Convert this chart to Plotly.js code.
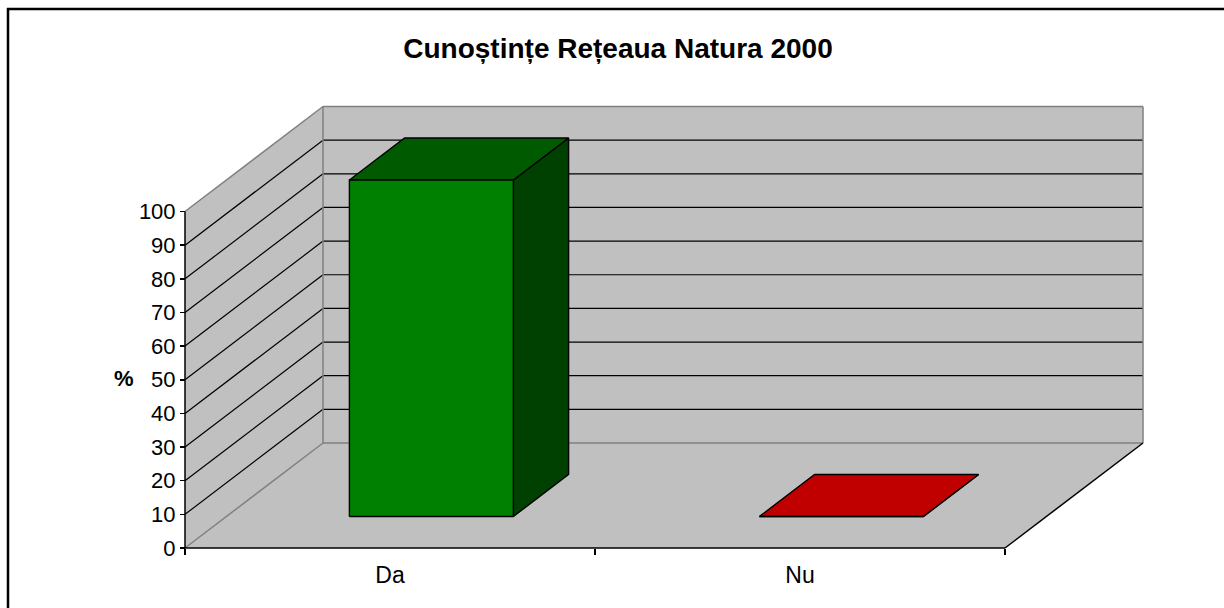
<!DOCTYPE html>
<html>
<head>
<meta charset="utf-8">
<script src="https://cdn.plot.ly/plotly-3.0.1.min.js"></script>
<style>
  html, body { margin: 0; padding: 0; background: #fff; }
  #chart { width: 1224px; height: 608px; }
</style>
</head>
<body>
<div id="chart"></div>
<script>
// ---- data ----
const chartTitle = 'Cunoștințe Rețeaua Natura 2000';
const yAxisLabel = '%';
const categories = ['Da', 'Nu'];
const values = [100, 0];
const yTickVals = [0, 10, 20, 30, 40, 50, 60, 70, 80, 90, 100];
const yTickText = ['0', '10', '20', '30', '40', '50', '60', '70', '80', '90', '100'];
const yMax = 100;

// ---- styles ----
const frontColors = ['#008000', '#C00000'];
const topColors = ['#005A00', '#C00000'];
const sideColors = ['#004000', '#800000'];
const wallColor = '#C0C0C0';
const edgeGray = '#808080';
const FONT = 'Liberation Sans, Arial, sans-serif';

// ---- geometry (pixel layout of the oblique projection) ----
const W_FULL = 1224, H_FULL = 608;
const X0PX = 185, CATPX = 410, DXPX = 138, Y0PX = 548, UNITPX = 3.365, DYPX = 105, PAD = 6;
const l = X0PX - PAD;
const plotRightPx = X0PX + categories.length * CATPX + DXPX + PAD;
const r = W_FULL - plotRightPx;
const t = 100;
const b = H_FULL - (Y0PX + PAD);
const W = W_FULL - l - r, H = H_FULL - t - b;
const xRange = [-(X0PX - l) / CATPX, (plotRightPx - X0PX) / CATPX];
const yRange = [-PAD / UNITPX, (Y0PX - t) / UNITPX];
const DX = DXPX / CATPX;   // depth offset, x units
const DY = DYPX / UNITPX;  // depth offset, y units
const nCat = categories.length;
const barHalf = 0.2, z0 = 0.3, z1 = 0.7;

function P(x, y, z) { return [x + z * DX, y + z * DY]; }
function poly(pts, fill, lineColor, lineWidth) {
  const xs = pts.map(p => p[0]), ys = pts.map(p => p[1]);
  xs.push(xs[0]); ys.push(ys[0]);
  return { x: xs, y: ys, mode: 'lines', fill: 'toself', fillcolor: fill,
    line: { color: lineColor, width: lineWidth }, hoverinfo: 'skip', showlegend: false, xaxis: 'x', yaxis: 'y' };
}
function lines(segs, color, width) {
  const xs = [], ys = [];
  segs.forEach(s => { xs.push(s[0][0], s[1][0], null); ys.push(s[0][1], s[1][1], null); });
  return { x: xs, y: ys, mode: 'lines', line: { color: color, width: width }, hoverinfo: 'skip',
    showlegend: false, connectgaps: false, xaxis: 'x', yaxis: 'y' };
}

const traces = [];
// floor
traces.push(poly([P(0, 0, 0), P(nCat, 0, 0), P(nCat, 0, 1), P(0, 0, 1)], wallColor, 'rgba(0,0,0,0)', 0));
// left wall
traces.push(poly([P(0, 0, 0), P(0, yMax, 0), P(0, yMax, 1), P(0, 0, 1)], wallColor, 'rgba(0,0,0,0)', 0));
// back wall
traces.push(poly([P(0, 0, 1), P(nCat, 0, 1), P(nCat, yMax, 1), P(0, yMax, 1)], wallColor, 'rgba(0,0,0,0)', 0));
// gridlines
const grid = [];
yTickVals.filter(v => v > 0 && v < yMax).forEach(v => {
  grid.push([P(0, v, 0), P(0, v, 1)]);
  grid.push([P(0, v, 1), P(nCat, v, 1)]);
});
traces.push(lines(grid, '#000', 1.2));
// gray wall edges
traces.push(lines([
  [P(0, 0, 0), P(0, 0, 1)],
  [P(0, yMax, 0), P(0, yMax, 1)],
  [P(0, 0, 1), P(nCat, 0, 1)],
  [P(0, yMax, 1), P(nCat, yMax, 1)],
  [P(0, 0, 1), P(0, yMax, 1)],
  [P(nCat, 0, 1), P(nCat, yMax, 1)]
], edgeGray, 1.5));
// black front edges
traces.push(lines([
  [P(0, 0, 0), P(nCat, 0, 0)],
  [P(nCat, 0, 0), P(nCat, 0, 1)],
  [P(0, 0, 0), P(0, yMax, 0)]
], '#000', 1.5));
// bars
categories.forEach((c, i) => {
  const v = values[i];
  const x0 = i + 0.5 - barHalf, x1 = i + 0.5 + barHalf;
  traces.push(poly([P(x1, 0, z0), P(x1, 0, z1), P(x1, v, z1), P(x1, v, z0)], sideColors[i], '#000', 1.4));
  traces.push(poly([P(x0, v, z0), P(x1, v, z0), P(x1, v, z1), P(x0, v, z1)], topColors[i], '#000', 1.4));
  traces.push(poly([P(x0, 0, z0), P(x1, 0, z0), P(x1, v, z0), P(x0, v, z0)], frontColors[i], '#000', 1.4));
});
// dummy trace for category label axis
traces.push({ x: [0.5, 1.5], y: [null, null], mode: 'markers', xaxis: 'x2', yaxis: 'y', hoverinfo: 'skip', showlegend: false });

const layout = {
  width: W_FULL, height: H_FULL,
  margin: { l: l, r: r, t: t, b: b, pad: 0 },
  paper_bgcolor: '#fff', plot_bgcolor: 'rgba(0,0,0,0)',
  showlegend: false,
  font: { family: FONT, color: '#000', size: 22 },
  title: { text: '<b>' + chartTitle + '</b>', x: 618 / W_FULL, xanchor: 'center', y: 1 - 48 / H_FULL, yanchor: 'middle',
    font: { family: FONT, size: 28, color: '#000' } },
  xaxis: { range: xRange, tickvals: [0, 1, 2], ticktext: ['', '', ''], ticks: 'outside', ticklen: 6, tickwidth: 1.5, tickcolor: '#000',
    showticklabels: false, showgrid: false, zeroline: false, showline: false, anchor: 'free', position: PAD / H, fixedrange: true },
  xaxis2: { range: xRange, overlaying: 'x', tickvals: categories.map((c, i) => i + 0.5), ticktext: categories, ticks: '',
    showgrid: false, zeroline: false, showline: false, anchor: 'free', position: PAD / H, side: 'bottom',
    ticklabelstandoff: 11, tickfont: { family: FONT, size: 23, color: '#000' }, fixedrange: true },
  yaxis: { range: yRange, tickvals: yTickVals, ticktext: yTickText, ticks: 'outside', ticklen: 5, tickwidth: 1.5, tickcolor: '#000',
    showgrid: false, zeroline: false, showline: false, anchor: 'free', position: (X0PX - l) / W,
    tickfont: { family: FONT, size: 22, color: '#000' }, fixedrange: true },
  annotations: [
    { text: '<b>' + yAxisLabel + '</b>', xref: 'paper', yref: 'paper', x: (124 - l) / W, y: (608 - b - 378) / H,
      xanchor: 'center', yanchor: 'middle', showarrow: false, font: { family: FONT, size: 22, color: '#000' } }
  ],
  shapes: [
    { type: 'line', xref: 'paper', yref: 'paper', x0: (8 - l) / W, x1: (8 - l) / W, y0: (608 - b - 612) / H, y1: (608 - b - 8) / H,
      line: { color: '#000', width: 2.5 }, layer: 'above' },
    { type: 'line', xref: 'paper', yref: 'paper', x0: (7 - l) / W, x1: (1230 - l) / W, y0: (608 - b - 9) / H, y1: (608 - b - 9) / H,
      line: { color: '#000', width: 2.5 }, layer: 'above' }
  ]
};

Plotly.newPlot('chart', traces, layout, { staticPlot: true, displayModeBar: false });
</script>
</body>
</html>
